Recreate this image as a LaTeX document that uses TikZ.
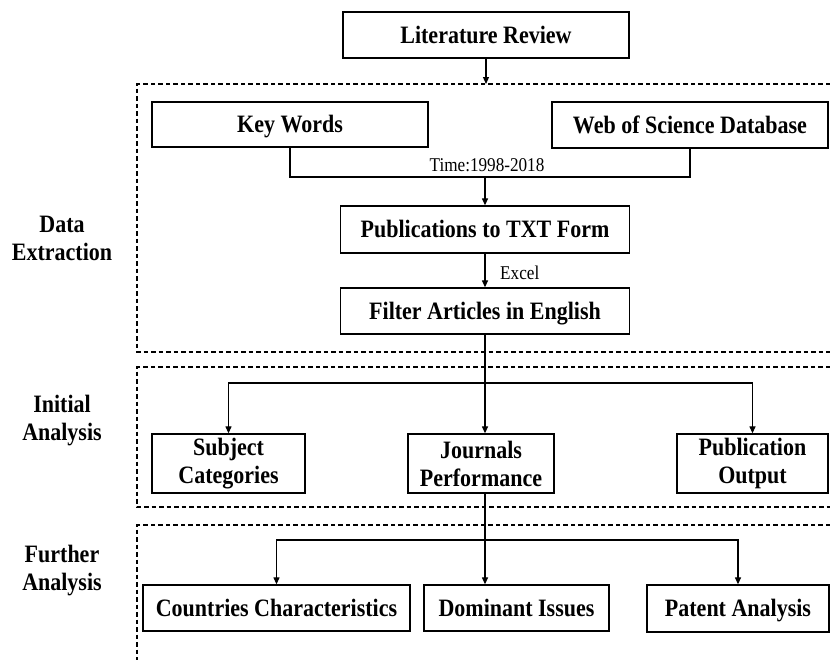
\documentclass[tikz,border=0pt]{standalone}
\usepackage{fontspec}
\setmainfont{Liberation Serif}[FakeStretch=0.88]
\usetikzlibrary{arrows.meta}
\tikzset{
  box/.style={draw, line width=1.3pt, inner sep=0pt, align=center,
    font=\fontsize{25}{28}\selectfont\bfseries},
  one/.style={text height=18pt, text depth=1.5pt},
  side/.style={inner sep=0pt, align=center, font=\fontsize{25}{28}\selectfont\bfseries},
  lbl/.style={inner sep=0pt, font=\fontsize{19.5}{21}\selectfont},
  conn/.style={line width=1.2pt},
  arr/.style={line width=1.2pt, -{Triangle[length=7pt,width=6pt]}},
  region/.style={line width=1.2pt, dash pattern=on 4.5pt off 3pt},
}
\begin{document}
\begin{tikzpicture}[x=1pt,y=-1pt]
\useasboundingbox (0,0) rectangle (830,659);
% regions
\draw[region] (830,84) -- (137,84) -- (137,352) -- (830,352);
\draw[region] (830,367) -- (137,367) -- (137,507) -- (830,507);
\draw[region] (830,525) -- (137,525) -- (137,662);
% side labels
\node[side] (sde) at (62,238) {Data\\Extraction};
\node[side] (sia) at (62,421) {Initial\\Analysis};
\node[side] (sfa) at (62,571) {Further\\Analysis};
% boxes
\node[box, one, minimum width=286pt, minimum height=46pt] (lit) at (486,35) {Literature Review};
\node[box, one, minimum width=276pt, minimum height=45pt] (kw) at (290,124.5) {Key Words};
\node[box, one, minimum width=276pt, minimum height=46pt] (wos) at (690,125) {Web of Science Database};
\node[box, one, minimum width=289pt, minimum height=47pt] (pub) at (485,229.5) {Publications to TXT Form};
\node[box, one, minimum width=289pt, minimum height=46pt] (fil) at (485,311) {Filter Articles in English};
\node[box, minimum width=153pt, minimum height=59pt] (subj) at (228.5,463.5) {Subject\\Categories};
\node[box, minimum width=146pt, minimum height=59pt] (jour) at (481,463.5) {Journals\\Performance};
\node[box, minimum width=151pt, minimum height=59pt] (puo) at (752.5,463.5) {Publication\\Output};
\node[box, one, minimum width=267pt, minimum height=46pt] (cou) at (276.5,608) {Countries Characteristics};
\node[box, one, minimum width=185pt, minimum height=46pt] (dom) at (516.5,608) {Dominant Issues};
\node[box, one, minimum width=182pt, minimum height=47pt] (pat) at (738,608.5) {Patent Analysis};
% coordinates
\coordinate (detop) at (486,84);
\coordinate (join) at (485,177);
\coordinate (split1) at (485,383);
\coordinate (split2) at (485,540);
% connectors
\draw[arr] (lit.south) -- (detop);
\draw[conn] (kw.south) |- (join) -| (wos.south);
\node[lbl] (time) at (487,165) {Time:1998-2018};
\draw[arr] (join) -- (pub.north);
\draw[arr] (pub.south) -- (fil.north);
\node[lbl, anchor=west] (excel) at (500,273) {Excel};
\draw[arr] (fil.south) -- (split1) -- (split1 |- jour.north);
\draw[arr] (split1) -| (subj.north);
\draw[arr] (split1) -| (puo.north);
\draw[arr] (split1 |- jour.south) -- (split1 |- dom.north);
\draw[arr] (split2) -| (cou.north);
\draw[arr] (split2) -| (pat.north);
\end{tikzpicture}
\end{document}
